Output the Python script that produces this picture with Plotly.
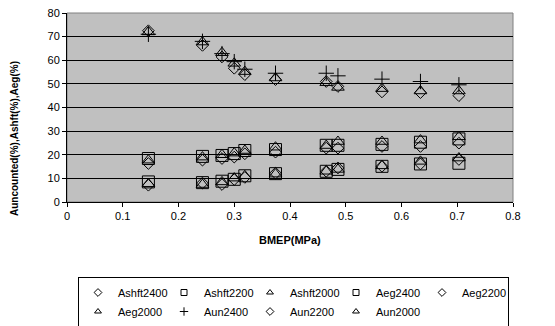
import plotly.graph_objects as go

bmep = [0.146, 0.243, 0.278, 0.300, 0.319, 0.374, 0.465, 0.486, 0.565, 0.634, 0.703]

ashft2400 = [7.1, 8.0, 7.4, 9.5, 10.4, 12.2, 13.0, 14.4, 15.1, 16.1, 18.0]
ashft2200 = [8.5, 8.2, 8.8, 9.6, 11.1, 12.0, 13.0, 13.8, 15.1, 16.1, 16.4]
ashft2000 = [7.7, 7.4, 8.5, 10.1, 11.1, 11.8, 13.0, 13.8, 15.3, 17.2, 18.6]
aeg2400 = [18.4, 19.3, 19.7, 20.5, 21.8, 22.2, 24.0, 24.0, 24.4, 25.3, 26.7]
aeg2200 = [16.3, 17.7, 18.4, 19.0, 20.4, 21.1, 22.8, 22.8, 23.5, 23.5, 24.9]
aeg2000 = [17.7, 19.0, 20.0, 20.7, 21.8, 23.2, 23.9, 25.6, 25.6, 26.2, 27.6]
aun2400 = [71.0, 68.0, 62.8, 59.4, 56.2, 54.5, 54.5, 53.4, 52.0, 51.0, 49.6]
aun2200 = [72.5, 66.3, 61.4, 56.6, 53.9, 51.8, 51.0, 48.9, 46.6, 46.3, 45.0]
aun2000 = [72.0, 67.7, 63.2, 58.7, 55.2, 52.5, 50.5, 48.5, 48.0, 47.0, 47.0]

series = [
    ("Ashft2400", ashft2400, "diamond-open", 9),
    ("Ashft2200", ashft2200, "square-open", 12),
    ("Ashft2000", ashft2000, "triangle-up-open", 11),
    ("Aeg2400", aeg2400, "square-open", 12),
    ("Aeg2200", aeg2200, "diamond-open", 9),
    ("Aeg2000", aeg2000, "triangle-up-open", 11),
    ("Aun2400", aun2400, "cross-thin-open", 11),
    ("Aun2200", aun2200, "diamond-open", 9),
    ("Aun2000", aun2000, "triangle-up-open", 11),
]

x_ticks = [0, 0.1, 0.2, 0.3, 0.4, 0.5, 0.6, 0.7, 0.8]
x_tick_labels = ["0", "0.1", "0.2", "0.3", "0.4", "0.5", "0.6", "0.7", "0.8"]
y_ticks = [0, 10, 20, 30, 40, 50, 60, 70, 80]

FONT = "Liberation Sans, Arial, sans-serif"
# the page body has an 8px margin, so the figure is 8px smaller on each side
OFF = 8
W, H = 555 - OFF, 326 - OFF

fig = go.Figure()
for name, vals, sym, sz in series:
    fig.add_trace(go.Scatter(
        x=bmep, y=vals, mode="markers", name=name, showlegend=False,
        legendgroup=name,
        marker=dict(symbol=sym, size=sz, color="black",
                    line=dict(color="black", width=1)),
    ))
# legend entries with small symbols (no data drawn)
for name, vals, sym, sz in series:
    fig.add_trace(go.Scatter(
        x=[None], y=[None], mode="markers", name=name, showlegend=True,
        legendgroup=name,
        marker=dict(symbol=sym, size=6, color="black",
                    line=dict(color="black", width=1)),
    ))

fig.update_layout(
    width=W, height=H,
    margin=dict(l=67 - OFF, r=W - (513 - OFF), t=13 - OFF, b=H - (202 - OFF),
                autoexpand=False),
    paper_bgcolor="white",
    plot_bgcolor="#C0C0C0",
    font=dict(family=FONT, size=11, color="black"),
    showlegend=True,
    legend=dict(
        orientation="h",
        xref="container", yref="container",
        x=(78 - OFF) / W, xanchor="left",
        y=1 - (277 - OFF) / H, yanchor="top",
        bordercolor="black", borderwidth=1,
        bgcolor="white",
        font=dict(family=FONT, size=11, color="black"),
        entrywidth=41,
        itemwidth=30,
        tracegroupgap=0,
    ),
    xaxis=dict(
        range=[0, 0.8], tickvals=x_ticks, ticktext=x_tick_labels,
        showgrid=False, zeroline=False, automargin=False,
        ticklabeloverflow="allow",
        showline=True, linecolor="black", linewidth=1,
        ticks="outside", ticklen=4, tickcolor="black",
    ),
    yaxis=dict(
        range=[0, 80], tickvals=y_ticks,
        showgrid=True, gridcolor="black", gridwidth=1,
        zeroline=False, automargin=False,
        ticklabeloverflow="allow",
        showline=True, linecolor="black", linewidth=1,
        ticks="outside", ticklen=4, tickcolor="black",
    ),
    shapes=[dict(type="rect", xref="paper", yref="paper", x0=0, x1=1, y0=0, y1=1,
                 line=dict(color="#808080", width=1), layer="below")],
    annotations=[
        dict(
            text="<b>Auncounted(%),Ashft(%),Aeg(%)</b>",
            textangle=-90, xref="paper", yref="paper",
            x=(14 - 67) / 446, y=(202 - 139) / 189,
            xanchor="center", yanchor="middle", showarrow=False,
            font=dict(family=FONT, size=10, color="black"),
        ),
        dict(
            text="<b>BMEP(MPa)</b>",
            xref="paper", yref="paper",
            x=0.5, y=(202 - 240) / 189,
            xanchor="center", yanchor="middle", showarrow=False,
            font=dict(family=FONT, size=11, color="black"),
        ),
    ],
)

fig.write_html("out.html")
